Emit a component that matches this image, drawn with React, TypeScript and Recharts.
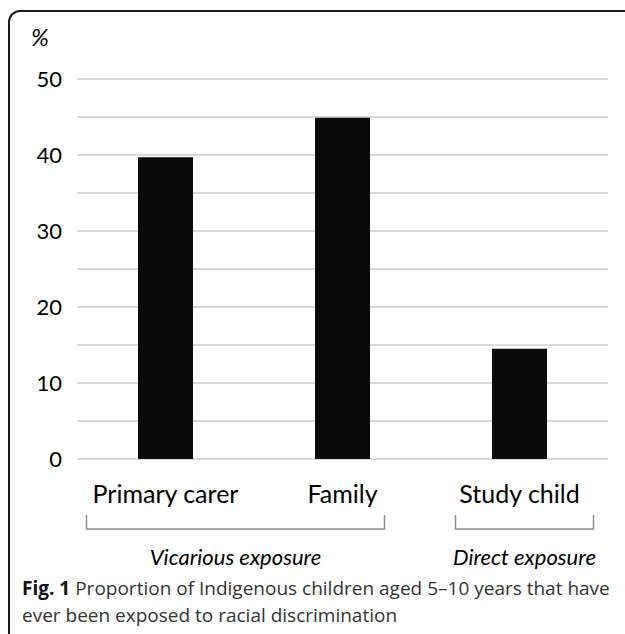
import React from 'react'
import { BarChart, Bar, XAxis, YAxis, CartesianGrid } from 'recharts'

const categories = ['Primary carer', 'Family', 'Study child']
const percentages = [39.7, 44.9, 14.5]
const categoryGroup = [0, 0, 1]
const groupLabels = ['Vicarious exposure', 'Direct exposure']
const yTicks = [0, 10, 20, 30, 40, 50]
const gridValues = [0, 5, 10, 15, 20, 25, 30, 35, 40, 45, 50]

const data = categories.map((name, i) => ({ name, value: percentages[i] }))

const W = 625
const H = 634
const PLOT_LEFT = 77
const PLOT_RIGHT = 608
const PLOT_TOP = 79
const PLOT_BOTTOM = 459
const Y_AXIS_W = 60
const X_AXIS_H = 120
const band = (PLOT_RIGHT - PLOT_LEFT) / categories.length

// how far each group bracket reaches past its outer tick centres
const bracketPad = [
  [79, 42],
  [64, 74],
]

const chartFont = 'Lato, "Open Sans", sans-serif'
const captionFont = '"Open Sans", sans-serif'

function CategoryTick(props: any) {
  const { x, payload } = props
  const i = categories.indexOf(payload.value)
  const g = categoryGroup[i]
  const first = categoryGroup.indexOf(g)
  const last = categoryGroup.lastIndexOf(g)
  const label = (
    <text x={x} y={PLOT_BOTTOM + 44} textAnchor="middle" fontSize={25} fill="#000" fontFamily={chartFont}>
      {payload.value}
    </text>
  )
  if (i !== first) return label
  const x0 = x - bracketPad[g][0]
  const x1 = x + (last - first) * band + bracketPad[g][1]
  const top = PLOT_BOTTOM + 56
  const bot = PLOT_BOTTOM + 70
  return (
    <g>
      {label}
      <polyline points={`${x0},${top} ${x0},${bot} ${x1},${bot} ${x1},${top}`} fill="none" stroke="#8c8c8c" strokeWidth={1.5} />
      <text x={(x0 + x1) / 2} y={PLOT_BOTTOM + 106} textAnchor="middle" fontSize={22} fontStyle="italic" fill="#000" fontFamily={chartFont}>
        {groupLabels[g]}
      </text>
    </g>
  )
}

export default function App() {
  return (
    <div style={{ position: 'absolute', left: 0, top: 0, width: W, height: H, overflow: 'hidden', background: '#fff' }}>
      <div
        style={{
          position: 'absolute',
          left: 8,
          top: 10,
          width: 660,
          height: 660,
          border: '2px solid #1a1a1a',
          borderRadius: 12,
        }}
      />
      <div style={{ position: 'absolute', left: 0, top: 0 }}>
        <BarChart
          width={W}
          height={H}
          data={data}
          margin={{ top: PLOT_TOP, right: W - PLOT_RIGHT, left: PLOT_LEFT - Y_AXIS_W, bottom: H - PLOT_BOTTOM - X_AXIS_H }}
        >
          <CartesianGrid vertical={false} horizontalValues={gridValues} stroke="#d9d9d9" strokeWidth={2} />
          <XAxis dataKey="name" height={X_AXIS_H} axisLine={false} tickLine={false} tick={<CategoryTick />} interval={0} />
          <YAxis
            width={Y_AXIS_W}
            domain={[0, 50]}
            ticks={yTicks}
            axisLine={false}
            tickLine={false}
            tickMargin={9}
            tick={{ fontSize: 22, fill: '#000', fontFamily: chartFont }}
          />
          <Bar dataKey="value" fill="#0a0a0a" barSize={55} isAnimationActive={false} />
        </BarChart>
      </div>
      <div style={{ position: 'absolute', left: 31, top: 22, fontSize: 24, fontStyle: 'italic', fontFamily: chartFont }}>%</div>
      <div
        style={{
          position: 'absolute',
          left: 22,
          top: 575,
          width: 600,
          fontSize: 19,
          lineHeight: '27px',
          color: '#333',
          fontFamily: captionFont,
          whiteSpace: 'nowrap',
        }}
      >
        <div>
          <span style={{ fontWeight: 700, color: '#111', marginRight: 5 }}>Fig. 1</span>
          <span>Proportion of Indigenous children aged 5–10 years that have</span>
        </div>
        <div>ever been exposed to racial discrimination</div>
      </div>
    </div>
  )
}
